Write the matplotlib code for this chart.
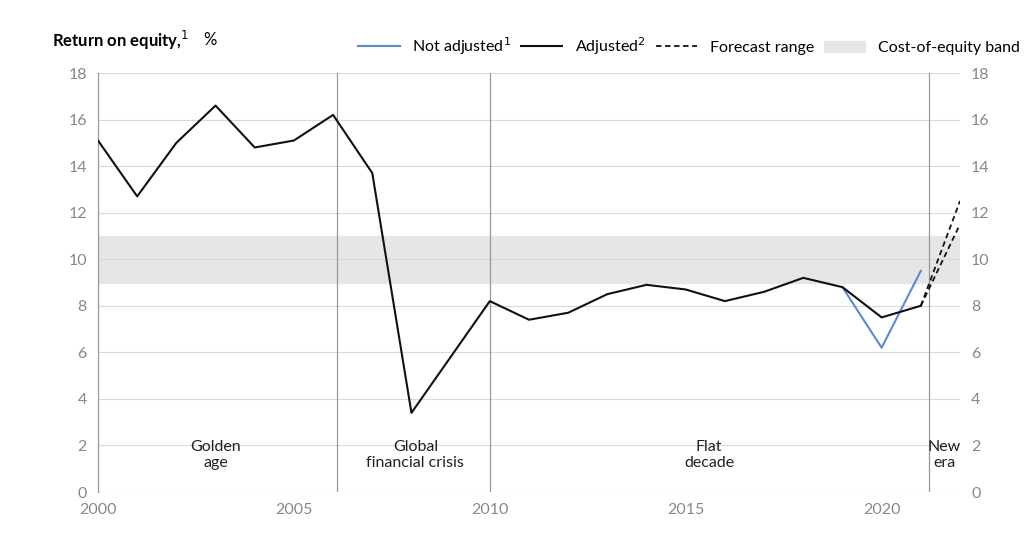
import matplotlib.pyplot as plt
from matplotlib.lines import Line2D
from matplotlib.patches import Patch

plt.rcParams["font.family"] = ["Lato", "DejaVu Sans"]

years = list(range(2000, 2022))
adjusted = [15.1, 12.7, 15.0, 16.6, 14.8, 15.1, 16.2, 13.7, 3.4, 5.8, 8.2,
            7.4, 7.7, 8.5, 8.9, 8.7, 8.2, 8.6, 9.2, 8.8, 7.5, 8.0]
na_years = [2019, 2020, 2021]
not_adjusted = [8.8, 6.2, 9.5]
fc_years = [2021, 2022]
fc_high = [8.0, 12.5]
fc_low = [8.0, 11.5]
band = (9, 11)
eras = [(2003, "Golden\nage"), (2008.1, "Global\nfinancial crisis"),
        (2015.6, "Flat\ndecade"), (2021.6, "New\nera")]
dividers = [2006.1, 2010, 2021.2]

fig = plt.figure(figsize=(10.24, 5.47), dpi=100)
ax = fig.add_axes([98 / 1024, 55 / 547, 862 / 1024, 419 / 547])
ax.axhspan(*band, color="#e6e6e6", zorder=0)
for y in range(0, 19, 2):
    ax.axhline(y, color="#d9d9d9", lw=0.8, zorder=0)
for d in dividers:
    ax.axvline(d, color="#999999", lw=0.9, zorder=1)
ax.plot(years, adjusted, color="#111111", lw=1.5, zorder=3)
ax.plot(na_years, not_adjusted, color="#5a8ad6", lw=1.5, zorder=2)
ax.plot(fc_years, fc_high, color="#111111", lw=1.3, ls=(0, (3, 2)), zorder=3)
ax.plot(fc_years, fc_low, color="#111111", lw=1.3, ls=(0, (3, 2)), zorder=3)
for x, t in eras:
    ax.text(x, 1.6, t, ha="center", va="center", fontsize=11.5, color="#222222")

ax.set_xlim(2000, 2022)
ax.set_ylim(0, 18)
ax.set_xticks(range(2000, 2021, 5))
ax.set_yticks(range(0, 19, 2))
ax.tick_params(length=0, labelsize=11.5, labelcolor="#888888", pad=8)
ax.tick_params(axis="y", labelright=True, right=False)
for s in ["top", "right", "bottom"]:
    ax.spines[s].set_visible(False)
ax.spines["left"].set_color("#999999")
ax.spines["left"].set_linewidth(0.9)

fig.text(52 / 1024, 1 - 40 / 547, r"Return on equity,$^{1}$", fontsize=12,
         fontweight="bold", va="center")
fig.text(203 / 1024, 1 - 40 / 547, "%", fontsize=12, va="center")
handles = [Line2D([], [], color="#5a8ad6", lw=1.5),
           Line2D([], [], color="#111111", lw=1.5),
           Line2D([], [], color="#111111", lw=1.3, ls=(0, (3, 2))),
           Patch(color="#e6e6e6")]
labels = [r"Not adjusted$^{1}$", r"Adjusted$^{2}$", "Forecast range",
          "Cost-of-equity band"]
fig.legend(handles, labels, loc="center right", bbox_to_anchor=(1.01, 1 - 46 / 547),
           ncol=4, frameon=False, fontsize=11.5, handlelength=2.6,
           columnspacing=0.6, handletextpad=0.8)
fig.savefig("out.png", dpi=100)
